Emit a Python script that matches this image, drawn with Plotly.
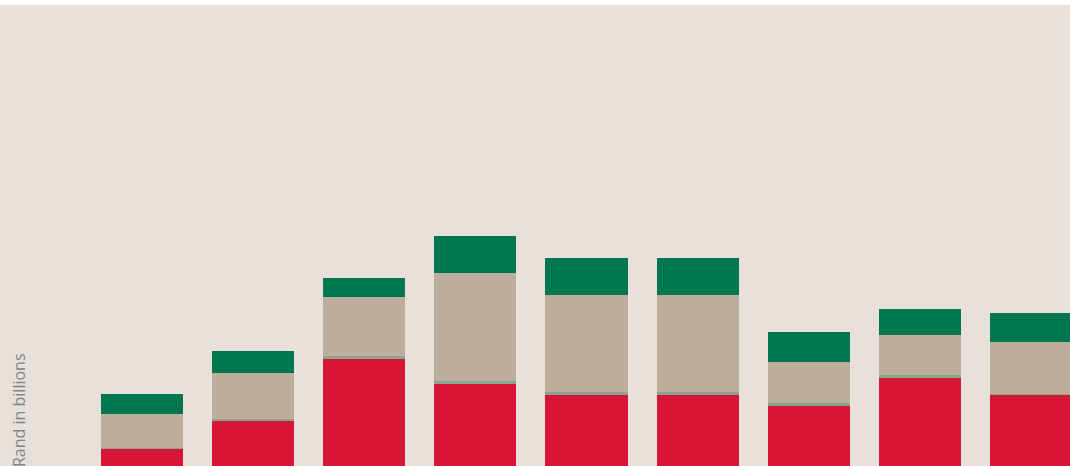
import plotly.graph_objects as go

categories = ["Y1", "Y2", "Y3", "Y4", "Y5", "Y6", "Y7", "Y8", "Y9"]
series_red = [14.2, 19.8, 32.2, 27.2, 25.0, 25.0, 22.8, 28.4, 25.0]
series_thin = [0.2, 0.4, 0.6, 0.6, 0.6, 0.6, 0.6, 0.6, 0.2]
series_tan = [6.8, 9.2, 11.8, 21.6, 19.4, 19.4, 8.2, 8.0, 10.4]
series_green = [4.0, 4.4, 3.8, 7.4, 7.4, 7.4, 6.0, 5.2, 5.8]

series = [
    ("Series A", series_red, "#D71536"),
    ("Series B", series_thin, "#86A68E"),
    ("Series C", series_tan, "#BDAD9B"),
    ("Series D", series_green, "#00774E"),
]

fig = go.Figure()
for name, vals, col in series:
    fig.add_trace(go.Bar(x=categories, y=vals, name=name,
                         marker=dict(color=col, line=dict(width=0))))

fig.update_layout(
    barmode="stack",
    bargap=0.262,
    width=1070, height=466,
    margin=dict(l=0, r=0, t=5, b=0),
    paper_bgcolor="#FFFFFF",
    plot_bgcolor="#E8E0DA",
    showlegend=False,
    xaxis=dict(type="category", range=[-1.2778, 8.351], showticklabels=False,
               showgrid=False, zeroline=False, showline=False),
    yaxis=dict(range=[10.8, 103.0], showticklabels=False, showgrid=False,
               zeroline=False, showline=False),
    annotations=[dict(text="Rand in billions", textangle=-90,
                      xref="paper", yref="paper", x=18.5/1070, y=(466-351.5)/461,
                      xanchor="center", yanchor="top", showarrow=False,
                      font=dict(family="Open Sans", size=16, color="#858585"))],
)

fig.write_html("out.html")
